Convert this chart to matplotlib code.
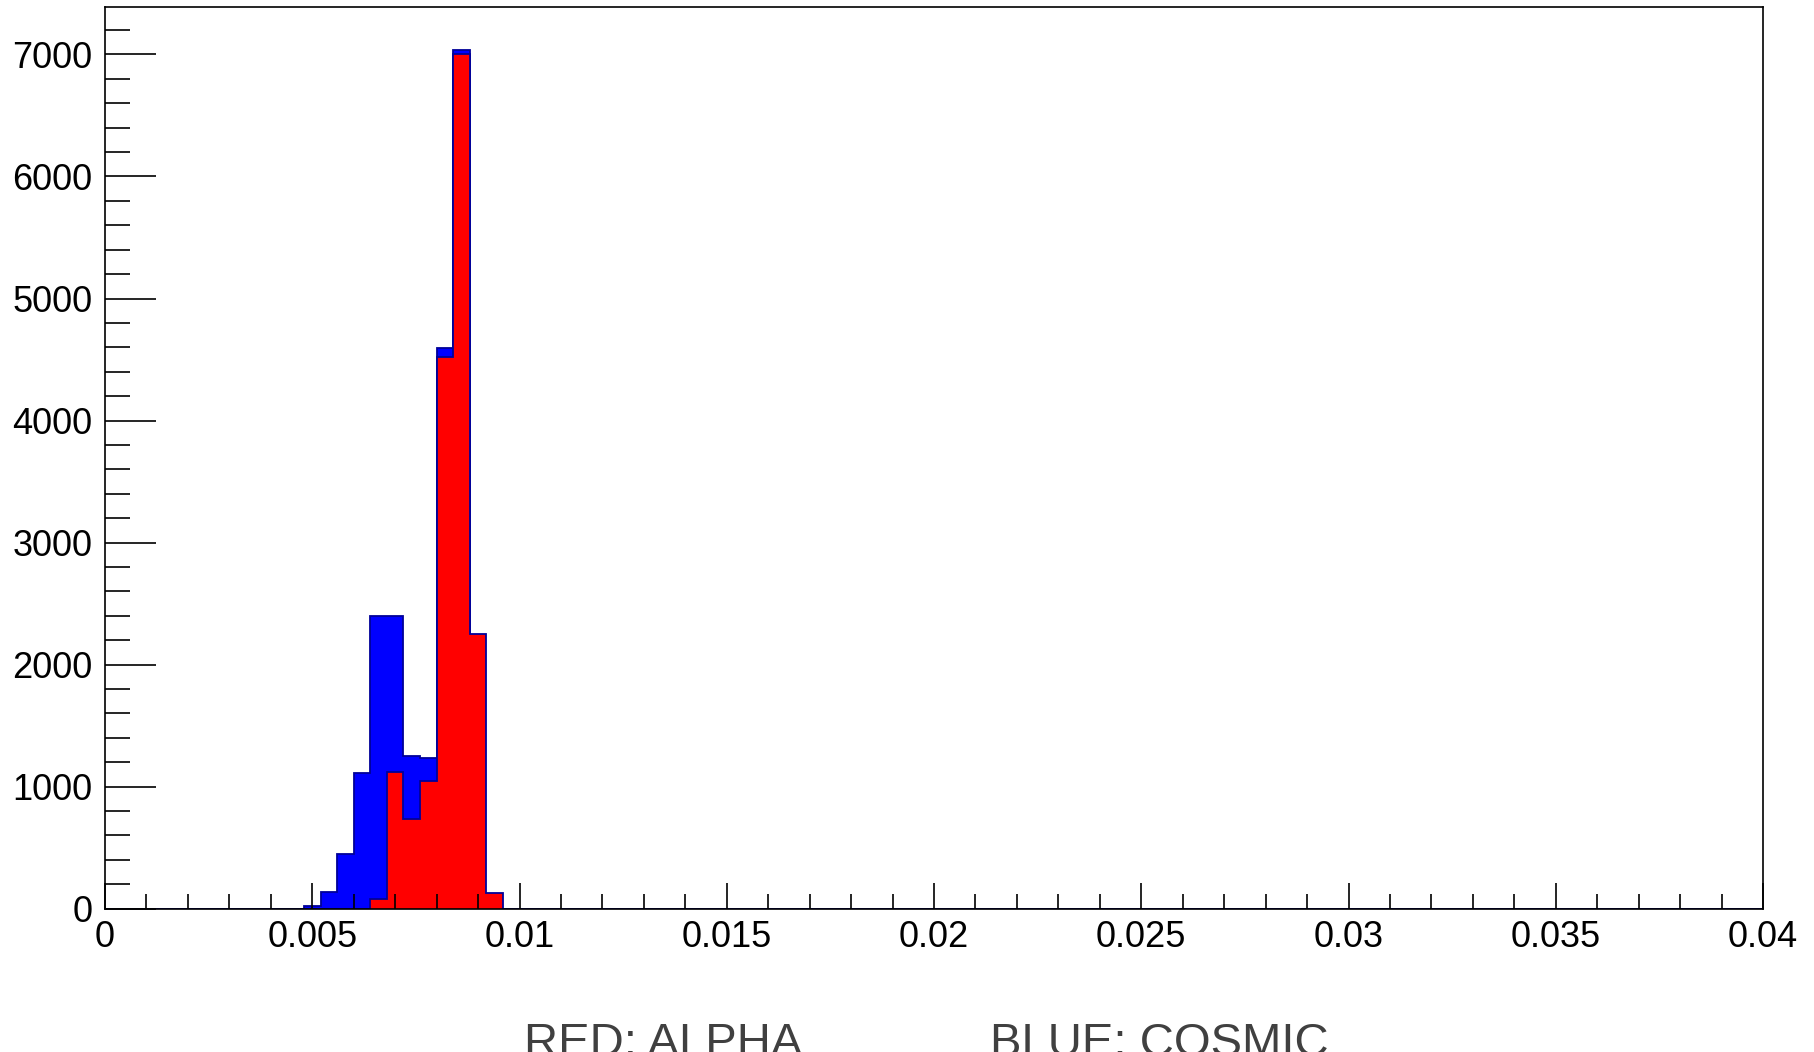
import numpy as np
import matplotlib
matplotlib.use("Agg")
import matplotlib.pyplot as plt
from matplotlib.ticker import MultipleLocator, FuncFormatter
from matplotlib.transforms import Bbox, TransformedBbox

plt.rcParams['font.family'] = ['Liberation Sans', 'DejaVu Sans']

# histogram binning: 100 bins between 0 and 0.04
n_bins = 100
x_lo, x_hi = 0.0, 0.04

# counts (first filled bin index, then counts)
cosmic_first_bin = 12
cosmic_counts = [25, 137, 447, 1116, 2398, 2398, 1250, 1236, 4591, 7037]
alpha_first_bin = 16
alpha_counts = [77, 1121, 734, 1045, 4517, 7005, 2248, 131]

edges = np.linspace(x_lo, x_hi, n_bins + 1)
cosmic = np.zeros(n_bins)
cosmic[cosmic_first_bin:cosmic_first_bin + len(cosmic_counts)] = cosmic_counts
alpha = np.zeros(n_bins)
alpha[alpha_first_bin:alpha_first_bin + len(alpha_counts)] = alpha_counts

W, H = 1814, 1052
fig = plt.figure(figsize=(W / 100, H / 100), dpi=100)
ax = fig.add_axes([105 / W, 143.3 / H, (1763 - 105) / W, (1045 - 143.3) / H])

line_col = '#000099'   # ROOT default line colour (602)
ax.stairs(cosmic, edges, fill=True, facecolor='#0000ff', edgecolor=line_col, lw=1.3, zorder=1)
ax.stairs(alpha, edges, fill=True, facecolor='#ff0000', edgecolor=line_col, lw=1.3, zorder=1.1)

ax.set_xlim(x_lo, x_hi)
ax.set_ylim(0, 1.05 * max(cosmic.max(), alpha.max()))

for s in ax.spines.values():
    s.set_linewidth(1.2)

ax.xaxis.set_major_locator(MultipleLocator(0.005))
ax.xaxis.set_minor_locator(MultipleLocator(0.001))
ax.yaxis.set_major_locator(MultipleLocator(1000))
ax.yaxis.set_minor_locator(MultipleLocator(200))
ax.xaxis.set_major_formatter(FuncFormatter(lambda v, p: '%g' % round(v, 4)))
ax.yaxis.set_major_formatter(FuncFormatter(lambda v, p: '%d' % v))

ax.tick_params(axis='both', which='both', direction='in', top=False, right=False,
               width=1.2, colors='black', labelsize=26)
ax.tick_params(axis='y', which='major', length=37, pad=9)
ax.tick_params(axis='y', which='minor', length=18)
ax.tick_params(axis='x', which='major', length=19, pad=8)
ax.tick_params(axis='x', which='minor', length=11)

# bottom caption, cut at the top and by the image edge like the original
clip = TransformedBbox(Bbox([[0, 0], [1, (H - 1021) / H]]), fig.transFigure)
for txt, x0 in [("RED: ALPHA", 524), ("BLUE: COSMIC", 990)]:
    t = fig.text(x0 / W, -4 / H, txt, fontsize=34, color='#404040',
                 ha='left', va='baseline')
    t.set_clip_box(clip)
    t.set_clip_on(True)

fig.savefig("out.png", dpi=100)
